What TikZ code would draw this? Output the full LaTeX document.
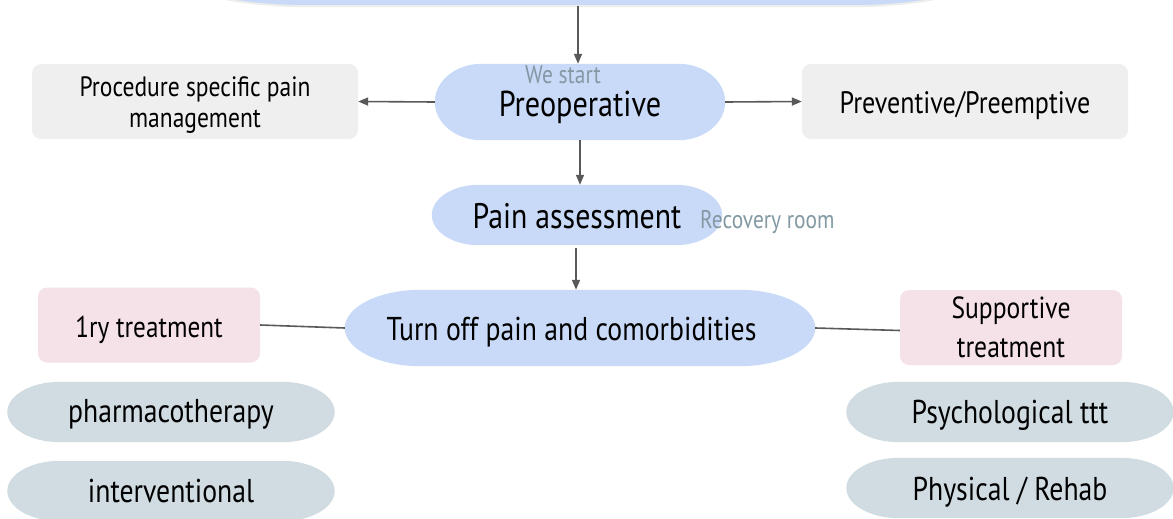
\documentclass[tikz,border=0pt]{standalone}
\usepackage{fontspec}
\setmainfont[FakeStretch=0.84]{PT Sans}
\usetikzlibrary{arrows.meta, calc, backgrounds}
\definecolor{flowBlue}{HTML}{C9DAF8}
\definecolor{flowGray}{HTML}{EFEFEF}
\definecolor{flowPink}{HTML}{F5E2E8}
\definecolor{flowSlate}{HTML}{D0DCE2}
\definecolor{flowNote}{HTML}{8299A3}
\definecolor{flowLine}{HTML}{595959}
\tikzset{
    pterm/.style={rectangle, minimum width=290pt, minimum height=76pt, align=center, inner sep=0pt, text depth=0pt},
    pgray/.style={rounded corners=9pt, fill=flowGray, minimum width=326pt, minimum height=75pt, align=center, inner sep=0pt},
    ppink/.style={rounded corners=9pt, fill=flowPink, minimum width=222pt, minimum height=75pt, align=center, inner sep=0pt},
    pslate/.style={pterm, minimum width=327pt, minimum height=60pt, font=\fontsize{33}{38}\selectfont},
    pnote/.style={text=flowNote, font=\fontsize{25.5}{28}\selectfont, inner sep=0pt},
    pline/.style={-{Triangle[length=10pt, width=8pt]}, draw=flowLine, line width=1.6pt},
    plink/.style={draw=flowLine, line width=1.6pt}
}
% flowchart terminator fill behind a named node
\newcommand{\termfill}[2]{%
    \path[#2] let \p1=(#1.south west), \p2=(#1.north east),
        \n1={0.161*(\x2-\x1)}, \n2={0.5*(\y2-\y1)} in
        (\x1+\n1,\y1) -- (\x2-\n1,\y1)
        arc[start angle=-90, end angle=90, x radius={\n1*1pt}, y radius={\n2*1pt}] -- (\x1+\n1,\y2)
        arc[start angle=90, end angle=270, x radius={\n1*1pt}, y radius={\n2*1pt}] -- cycle;}
\begin{document}
\begin{tikzpicture}[x=1pt, y=-1pt]
    \useasboundingbox (0,0) rectangle (1173,519);
    % top box, cut off by the page
    \node[pterm, minimum width=800pt, minimum height=60pt] (top) at (580,-24) {};
    \node[pterm, text height=28pt, font=\fontsize{36}{40}\selectfont] (pre) at (580,102) {Preoperative};
    \node[pnote] (start) at (563,75) {We start};
    \node[pgray, font=\fontsize{28}{31}\selectfont] (proc) at (195,101.5) {\rule{0pt}{26pt}Procedure specific pain\\management};
    \node[pgray, text height=24pt, text depth=0pt, font=\fontsize{31}{34}\selectfont] (prev) at (965,101.5) {Preventive/Preemptive};
    \node[pterm, minimum height=60pt, text height=26pt, font=\fontsize{35.5}{40}\selectfont] (assess) at (577,215) {Pain assessment};
    \node[pnote, anchor=base west] (rec) at (700,228) {Recovery room};
    \node[pterm, minimum width=470pt, minimum height=76pt, text height=24pt, font=\fontsize{33}{38}\selectfont] (turn) at (580,328) {Turn off pain and comorbidities\hspace*{17pt}};
    \node[ppink, text height=24pt, text depth=0pt, font=\fontsize{30}{34}\selectfont] (first) at (149,325) {1ry treatment};
    \node[ppink, font=\fontsize{30.5}{39}\selectfont] (supp) at (1011,327.5) {Supportive\\treatment};
    \node[pslate, text height=20pt] (pharm) at (171,412) {pharmacotherapy};
    \node[pslate, text height=22pt] (interv) at (171,491) {interventional};
    \node[pslate, text height=22pt] (psych) at (1010,412) {Psychological ttt};
    \node[pslate, text height=24pt] (phys) at (1010,488) {Physical / Rehab};
    \begin{scope}[on background layer]
        \termfill{top}{fill=flowBlue, draw=black!7, line width=2pt}
        \foreach \nd in {pre, assess, turn}
            {\termfill{\nd}{fill=flowBlue}}
        \foreach \nd in {pharm, interv, psych, phys}
            {\termfill{\nd}{fill=flowSlate}}
    \end{scope}
    % connectors
    \draw[pline] (top.south -| 578,0) -- (pre.north -| 578,0);
    \draw[pline] (pre.west) -- (proc.east);
    \draw[pline] (pre.east) -- (prev.west);
    \draw[pline] (pre.south) -- (assess.north -| pre.south);
    \draw[pline] ([yshift=-3pt]assess.south -| 576,0) -- (turn.north -| 576,0);
    \draw[plink] (first.east) -- (turn.west);
    \draw[plink] (turn.east) -- ([yshift=-3pt]supp.west);
\end{tikzpicture}
\end{document}
